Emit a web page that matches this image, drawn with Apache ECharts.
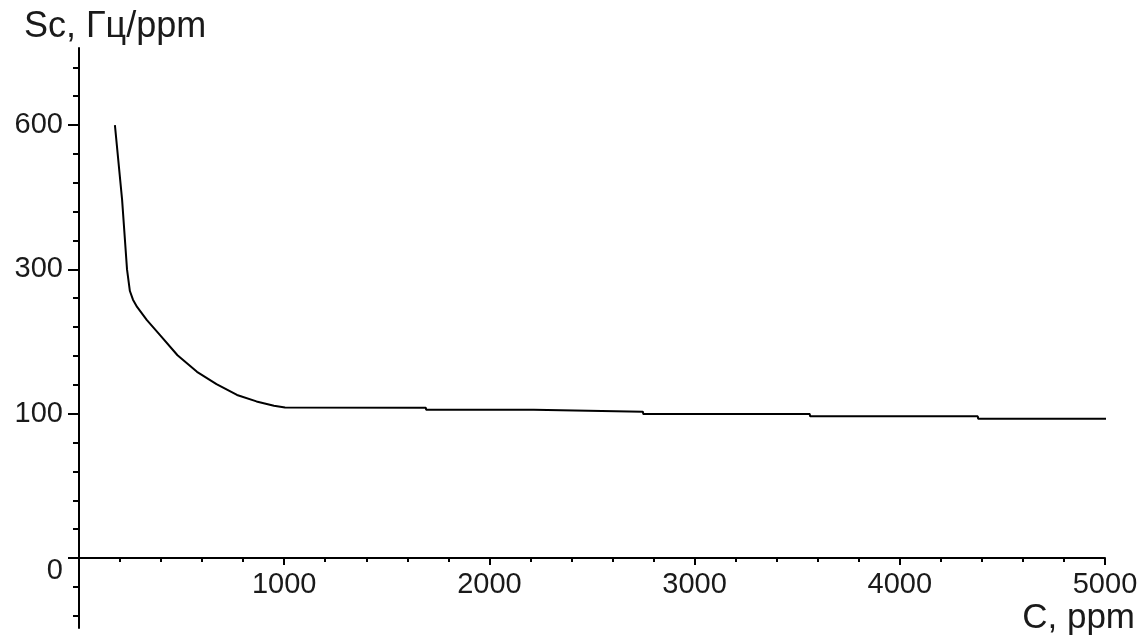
<!DOCTYPE html>
<html>
<head>
<meta charset="utf-8">
<script src="https://cdn.jsdelivr.net/npm/echarts@6/dist/echarts.min.js"></script>
<style>
html,body{margin:0;padding:0;background:#fff;}
#chart{width:1148px;height:637px;}
</style>
</head>
<body>
<div id="chart"></div>
<script>
// Concentration C, ppm
const concentration = [175, 210, 234, 248, 263, 283, 330, 395, 480, 575, 670, 770, 865, 950, 1004,
  1690, 1692, 2216, 2218, 2748, 2750, 3561, 3563, 4380, 4382, 5025];
// Sensitivity Sc, Hz/ppm
const sensitivity = [600, 445, 300, 270, 258, 248, 230, 209, 181, 158, 141, 126, 117, 111, 108.5,
  108.3, 105.5, 105.5, 102.8, 102.8, 99.8, 99.8, 98.2, 98.2, 96.5, 96.5];
// Y tick labels (equally spaced on the original axis)
const yTickLabels = [0, 100, 300, 600];
// Minor y tick positions (in tick-index units)
const yMinorTicks = [-0.4, -0.2, 0, 0.2, 0.4, 0.6, 0.8, 1, 1.2, 1.4, 1.6, 1.8, 2, 2.2, 2.4, 2.6, 2.8, 3, 3.2, 3.4];
const xMajorTicks = [1000, 2000, 3000, 4000, 5000];

// piecewise-linear mapping of values to the axis' equally spaced tick positions
function toPos(v) {
  for (let i = 0; i < yTickLabels.length - 1; i++) {
    const a = yTickLabels[i], b = yTickLabels[i + 1];
    if (v <= b || i === yTickLabels.length - 2) return i + (v - a) / (b - a);
  }
}
const seriesData = concentration.map((c, i) => [c, toPos(sensitivity[i])]);

const FONT = 'Liberation Sans';
const TXT = '#1a1a1a';
const chart = echarts.init(document.getElementById('chart'), null, {renderer: 'canvas'});
const yMin = -0.485, yMax = 3.534;
const gridTop = 48, gridBottom = 9, H = 637;
const zeroOffset = -Math.round((0 - yMin) / (yMax - yMin) * (H - gridTop - gridBottom));
chart.setOption({
  animation: false,
  backgroundColor: '#fff',
  title: [
    {text: 'Sc, Гц/ppm', left: 19, top: 4,
     textStyle: {fontFamily: FONT, fontSize: 36, fontWeight: 'normal', color: TXT}},
    {text: 'C, ppm', right: 8, top: 596,
     textStyle: {fontFamily: FONT, fontSize: 35, fontWeight: 'normal', color: TXT}}
  ],
  grid: {left: 79, right: 43, top: gridTop, bottom: gridBottom, containLabel: false, outerBoundsMode: 'none'},
  xAxis: [
    {type: 'value', min: 0, max: 5000, interval: 1000, position: 'bottom', offset: zeroOffset,
     axisLine: {show: true, onZero: false, lineStyle: {color: '#000', width: 2}},
     axisTick: {show: true, length: 7, lineStyle: {color: '#000', width: 2}},
     axisLabel: {show: true, margin: 12, fontFamily: FONT, fontSize: 29, color: TXT,
       formatter: v => xMajorTicks.includes(v) ? String(v) : ''},
     splitLine: {show: false}},
    {type: 'value', min: 0, max: 5000, interval: 200, position: 'bottom', offset: zeroOffset,
     axisLine: {show: false, onZero: false},
     axisTick: {show: true, length: 4, lineStyle: {color: '#000', width: 2}},
     axisLabel: {show: false}, splitLine: {show: false}}
  ],
  yAxis: [
    {type: 'value', min: yMin, max: yMax, position: 'left',
     axisLine: {show: true, onZero: false, lineStyle: {color: '#000', width: 2}},
     axisTick: {show: true, length: 11, customValues: [0, 1, 2, 3], lineStyle: {color: '#000', width: 2}},
     axisLabel: {show: true, margin: 16, customValues: [0, 1, 2, 3], fontFamily: FONT, fontSize: 29, color: TXT,
       formatter: v => {
         const idx = Math.round(v);
         return idx === 0 ? '{z|0}' : String(yTickLabels[idx]);
       },
       rich: {z: {fontFamily: FONT, fontSize: 29, color: TXT, padding: [26, 0, 0, 0]}}},
     splitLine: {show: false}},
    {type: 'value', min: yMin, max: yMax, position: 'left',
     axisLine: {show: false, onZero: false},
     axisTick: {show: true, length: 6, customValues: yMinorTicks, lineStyle: {color: '#000', width: 2}},
     axisLabel: {show: false}, splitLine: {show: false}}
  ],
  series: [{
    type: 'line', xAxisIndex: 0, yAxisIndex: 0, data: seriesData,
    showSymbol: false, clip: false, smooth: false,
    lineStyle: {color: '#000', width: 2}
  }]
});
</script>
</body>
</html>
